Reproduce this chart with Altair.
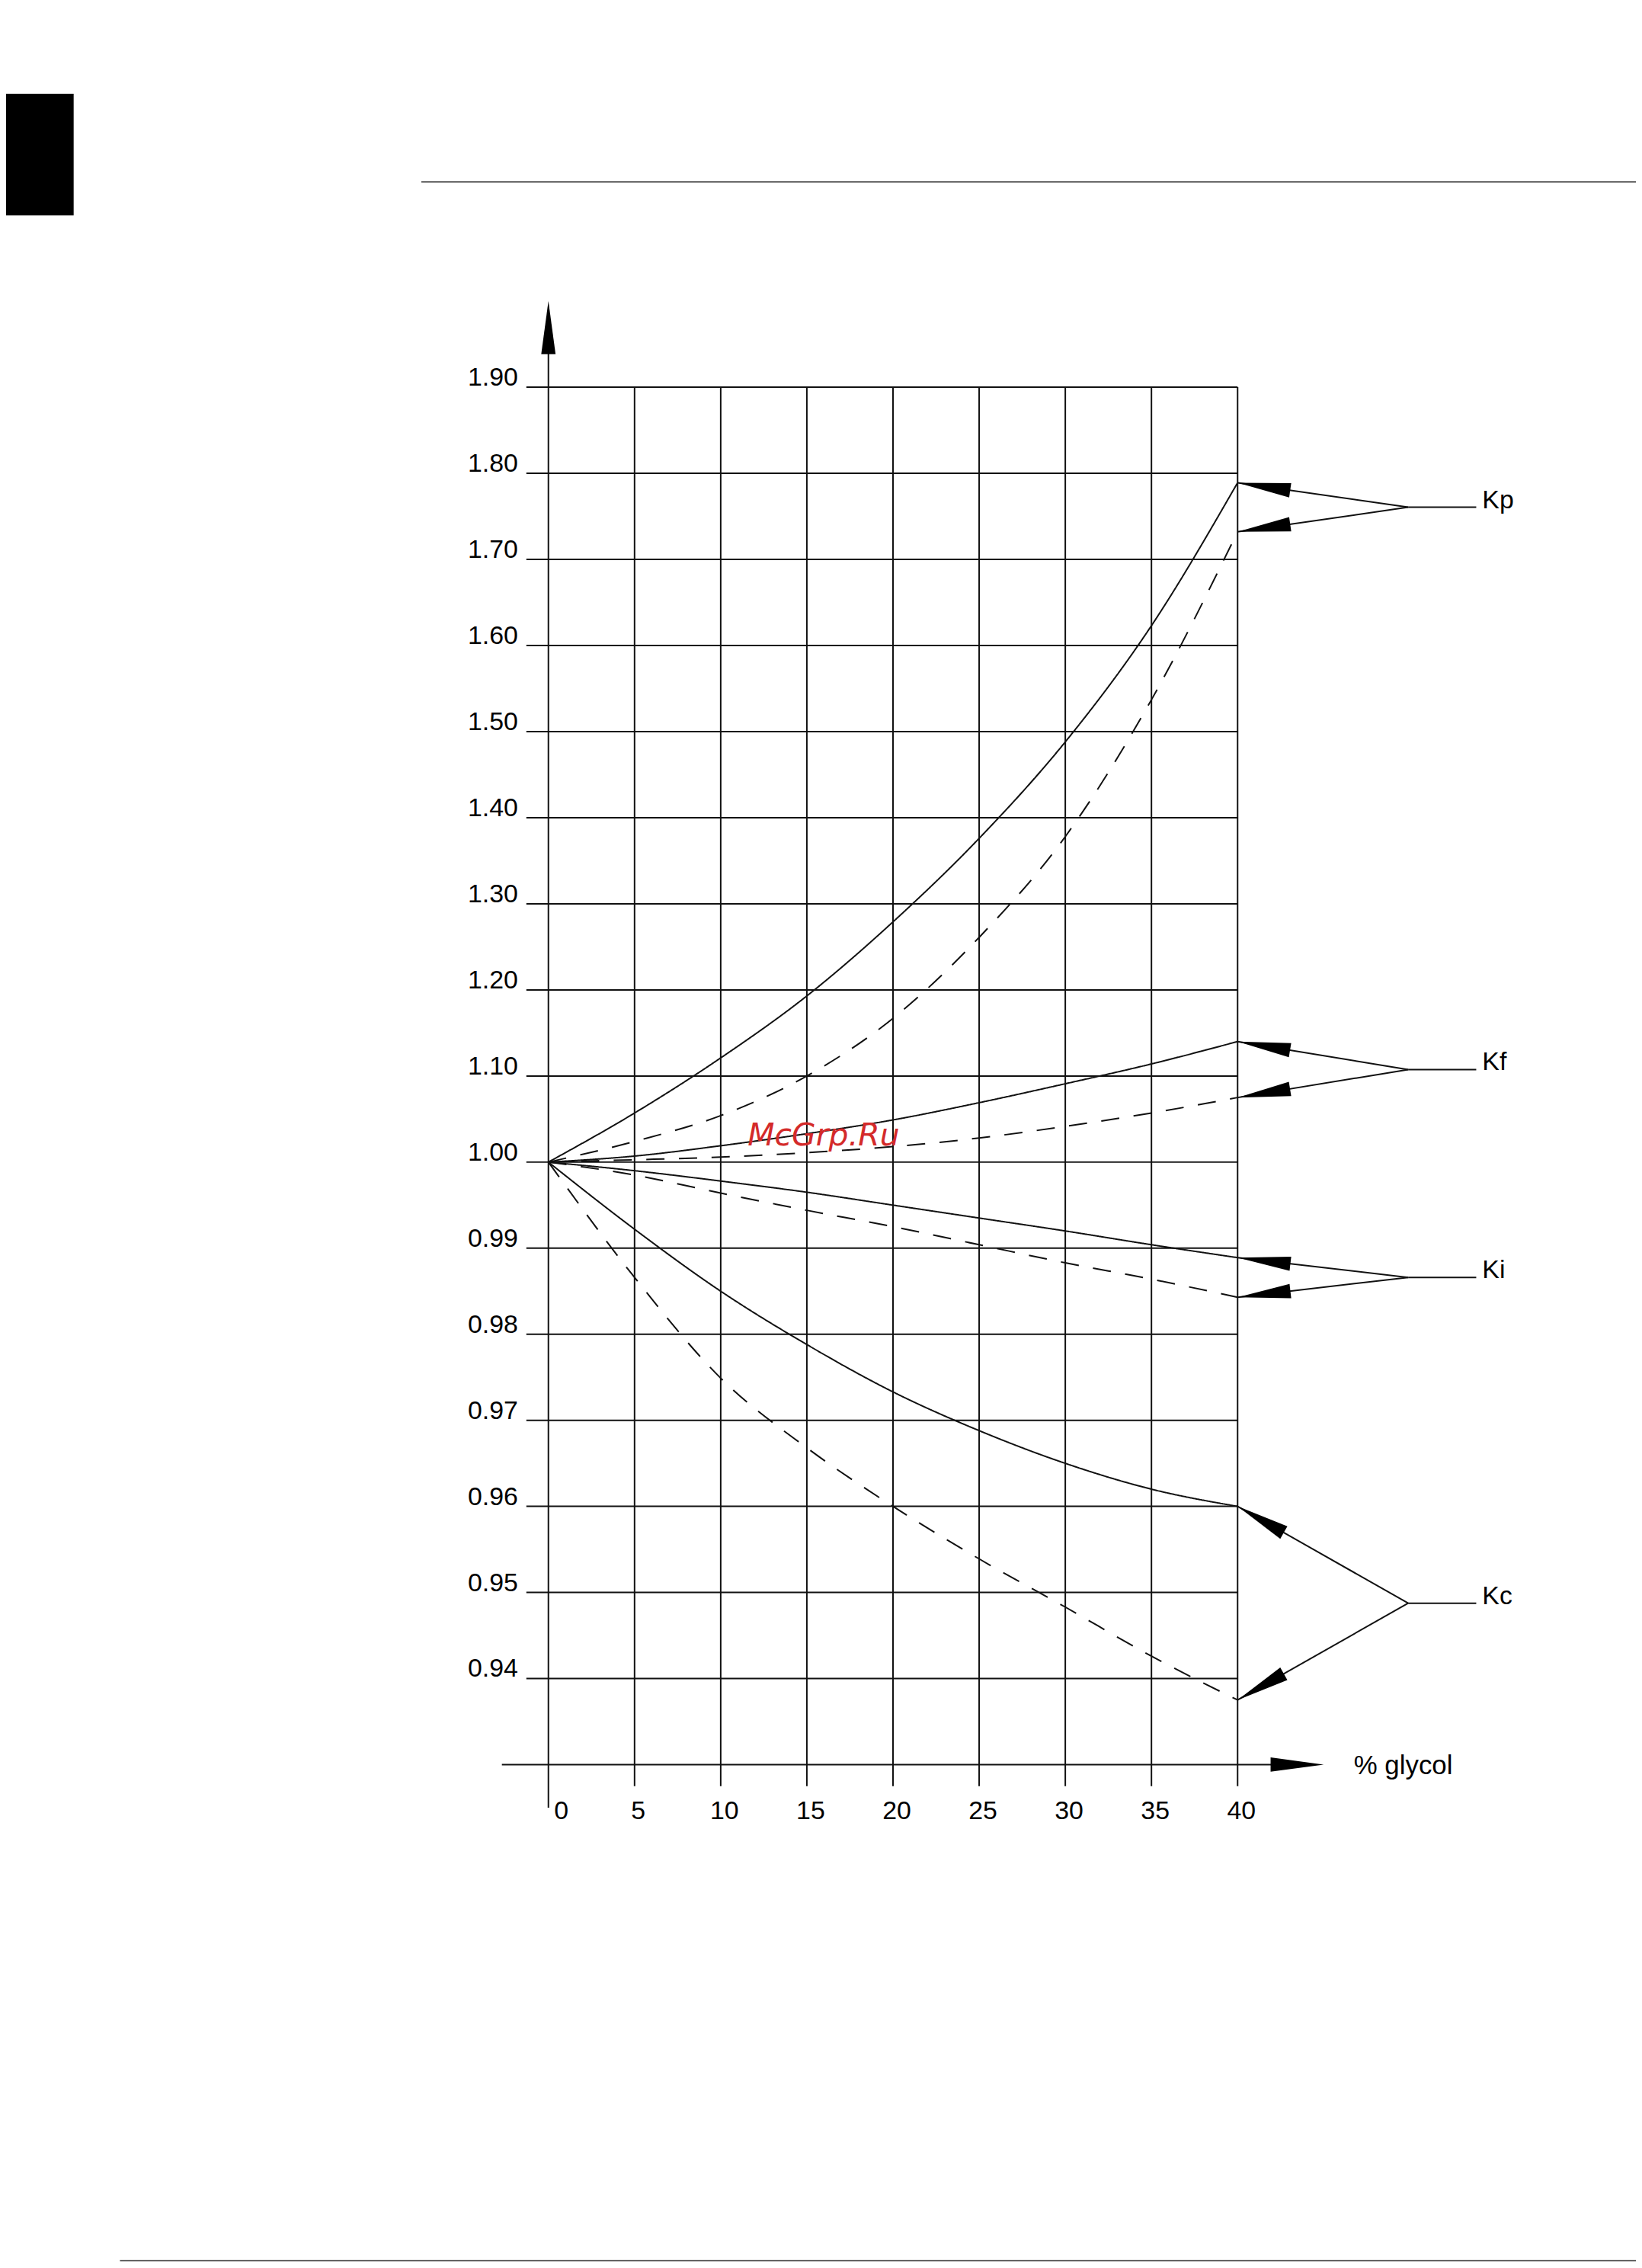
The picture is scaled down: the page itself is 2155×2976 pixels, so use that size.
import math
import altair as alt
import pandas as pd

# ---------------- data ----------------
GLYCOL = [0, 5, 10, 15, 20, 25, 30, 35, 40]

KP_SOLID = [1.000, 1.057, 1.121, 1.193, 1.279, 1.376, 1.488, 1.623, 1.789]
KP_DASHED = [1.000, 1.024, 1.054, 1.100, 1.167, 1.261, 1.378, 1.537, 1.732]
KF_SOLID = [1.000, 1.007, 1.019, 1.033, 1.049, 1.069, 1.091, 1.114, 1.140]
KF_DASHED = [1.000, 1.0027, 1.0058, 1.011, 1.018, 1.028, 1.0415, 1.057, 1.075]
KI_SOLID = [1.000, 0.9990, 0.9978, 0.9965, 0.9950, 0.9935, 0.9920, 0.9904, 0.9889]
KI_DASHED = [1.000, 0.9985, 0.9964, 0.9944, 0.9925, 0.9904, 0.9883, 0.9864, 0.9843]
KC_SOLID = [1.000, 0.9922, 0.9850, 0.9788, 0.9733, 0.9688, 0.9650, 0.9620, 0.9600]
KC_DASHED = [1.000, 0.9866, 0.9749, 0.9668, 0.9600, 0.9539, 0.9483, 0.9426, 0.9375]

CURVE_NAMES = ["Kp", "Kf", "Ki", "Kc"]
SOLID_SERIES = [KP_SOLID, KF_SOLID, KI_SOLID, KC_SOLID]
DASHED_SERIES = [KP_DASHED, KF_DASHED, KI_DASHED, KC_DASHED]

Y_TICKS = [1.90, 1.80, 1.70, 1.60, 1.50, 1.40, 1.30, 1.20, 1.10, 1.00,
           0.99, 0.98, 0.97, 0.96, 0.95, 0.94]
Y_TICK_LABELS = ["1.90", "1.80", "1.70", "1.60", "1.50", "1.40", "1.30", "1.20",
                 "1.10", "1.00", "0.99", "0.98", "0.97", "0.96", "0.95", "0.94"]
X_TICKS = [0, 5, 10, 15, 20, 25, 30, 35, 40]
X_TICK_LABELS = ["0", "5", "10", "15", "20", "25", "30", "35", "40"]
X_TITLE = "% glycol"
WATERMARK = "McGrp.Ru"

# ---------------- layout / style ----------------
X_MIN, X_MAX = 0, 40
Y_BASE, Y_ONE, Y_TOP = 0.93, 1.00, 1.90
X_RANGE = [714.4, 1622.3]
Y_RANGE = [2310.5, 1517.0, 496.3]
PX_PER_X = (X_RANGE[1] - X_RANGE[0]) / (X_MAX - X_MIN)

GRID_LEFT = -1.28      # horizontal grid lines stick out left of the y axis
AXIS_LEFT = -2.7       # x axis starts further left
AXIS_TIP_X = 45.0      # x-axis arrow tip
AXIS_TIP_Y = 2.0       # y-axis arrow tip
AXIS_BOTTOM = 0.925    # y axis sticks out below x axis
GRID_BOTTOM = 0.9275   # vertical grid lines stick out below x axis
JUNCTION_X = 49.9
LABEL_LINE_END = 53.85
LABEL_X = 54.2
TITLE_X = 46.74
WATERMARK_X, WATERMARK_Y = 11.57, 1.0197

FONT = "Liberation Sans"
FS = 34
INK = "#111111"
LW = 2.0
ARROW = "M0,0 L-2,-0.27 L-2,0.27 Z"   # tip at origin, pointing +x
ARROW_SIZE = 4900

xs = alt.Scale(domain=[X_MIN, X_MAX], range=X_RANGE, nice=False, zero=False)
ys = alt.Scale(domain=[Y_BASE, Y_ONE, Y_TOP], range=Y_RANGE, nice=False, zero=False)


def y_px(v):
    if v <= Y_ONE:
        return Y_RANGE[0] + (v - Y_BASE) / (Y_ONE - Y_BASE) * (Y_RANGE[1] - Y_RANGE[0])
    return Y_RANGE[1] + (v - Y_ONE) / (Y_TOP - Y_ONE) * (Y_RANGE[2] - Y_RANGE[1])


def X(f):
    return alt.X(f, type="quantitative", scale=xs, axis=None)


def Y(f):
    return alt.Y(f, type="quantitative", scale=ys, axis=None)


# ---------------- tables ----------------
rows = []
for name, s, d in zip(CURVE_NAMES, SOLID_SERIES, DASHED_SERIES):
    for x, v in zip(GLYCOL, s):
        rows.append({"x": x, "y": v, "curve": name + "_s", "style": "solid"})
    for x, v in zip(GLYCOL, d):
        rows.append({"x": x, "y": v, "curve": name + "_d", "style": "dashed"})
curves = pd.DataFrame(rows)

hgrid = pd.DataFrame({"x1": GRID_LEFT, "x2": X_MAX, "y": Y_TICKS})
vgrid = pd.DataFrame({"x": X_TICKS[1:], "y1": GRID_BOTTOM, "y2": Y_TOP})
yaxis = pd.DataFrame({"x": [0], "y1": [AXIS_BOTTOM], "y2": [AXIS_TIP_Y - 0.02]})
xaxis = pd.DataFrame({"x1": [AXIS_LEFT], "x2": [AXIS_TIP_X - 1], "y": [Y_BASE]})
axis_arrows = pd.DataFrame({"x": [0, AXIS_TIP_X], "y": [AXIS_TIP_Y, Y_BASE], "a": [270, 0]})

ann_lines, ann_heads, ann_labels = [], [], []
for name, s, d in zip(CURVE_NAMES, SOLID_SERIES, DASHED_SERIES):
    mid = (s[-1] + d[-1]) / 2
    for end in (s[-1], d[-1]):
        ann_lines.append({"x1": JUNCTION_X, "y1": mid, "x2": X_MAX, "y2": end})
        dx = (X_MAX - JUNCTION_X) * PX_PER_X
        dy = y_px(end) - y_px(mid)
        ang = math.degrees(math.atan2(dy, dx)) % 360
        ann_heads.append({"x": X_MAX, "y": end, "a": ang})
    ann_lines.append({"x1": JUNCTION_X, "y1": mid, "x2": LABEL_LINE_END, "y2": mid})
    ann_labels.append({"x": LABEL_X, "y": mid, "t": name})
ann_lines = pd.DataFrame(ann_lines)
ann_heads = pd.DataFrame(ann_heads)
ann_labels = pd.DataFrame(ann_labels)

ylab = pd.DataFrame({"y": Y_TICKS, "t": Y_TICK_LABELS})
xlab0 = pd.DataFrame({"x": X_TICKS[:1], "t": X_TICK_LABELS[:1]})
xlab = pd.DataFrame({"x": X_TICKS[1:], "t": X_TICK_LABELS[1:]})
title_df = pd.DataFrame({"x": [TITLE_X], "y": [Y_BASE], "t": [X_TITLE]})
wm_df = pd.DataFrame({"x": [WATERMARK_X], "y": [WATERMARK_Y], "t": [WATERMARK]})
one = pd.DataFrame({"d": [0]})

# ---------------- layers ----------------
layers = []

layers.append(alt.Chart(hgrid).mark_rule(color=INK, strokeWidth=LW).encode(
    x=X("x1"), x2=alt.X2("x2"), y=Y("y")))
layers.append(alt.Chart(vgrid).mark_rule(color=INK, strokeWidth=LW).encode(
    x=X("x"), y=Y("y1"), y2=alt.Y2("y2")))
layers.append(alt.Chart(yaxis).mark_rule(color=INK, strokeWidth=LW).encode(
    x=X("x"), y=Y("y1"), y2=alt.Y2("y2")))
layers.append(alt.Chart(xaxis).mark_rule(color=INK, strokeWidth=LW).encode(
    x=X("x1"), x2=alt.X2("x2"), y=Y("y")))
layers.append(alt.Chart(axis_arrows).mark_point(
    shape=ARROW, filled=True, size=ARROW_SIZE, color="black", opacity=1, strokeWidth=0
).encode(x=X("x"), y=Y("y"), angle=alt.Angle("a:Q", scale=None)))

layers.append(alt.Chart(curves).mark_line(
    color=INK, strokeWidth=LW, interpolate="monotone"
).encode(
    x=X("x"), y=Y("y"), detail="curve:N",
    strokeDash=alt.StrokeDash("style:N", legend=None,
                              scale=alt.Scale(domain=["solid", "dashed"],
                                              range=[[1, 0], [24, 19]])),
))

layers.append(alt.Chart(ann_lines).mark_rule(color=INK, strokeWidth=LW).encode(
    x=X("x1"), y=Y("y1"), x2=alt.X2("x2"), y2=alt.Y2("y2")))
layers.append(alt.Chart(ann_heads).mark_point(
    shape=ARROW, filled=True, size=ARROW_SIZE, color="black", opacity=1, strokeWidth=0
).encode(x=X("x"), y=Y("y"), angle=alt.Angle("a:Q", scale=None)))
layers.append(alt.Chart(ann_labels).mark_text(
    font=FONT, fontSize=FS, color="black", align="left", baseline="alphabetic", dy=1
).encode(x=X("x"), y=Y("y"), text="t:N"))

layers.append(alt.Chart(ylab).mark_text(
    font=FONT, fontSize=FS, color="black", align="right", baseline="alphabetic", dx=-40, dy=-2
).encode(x=alt.value(X_RANGE[0]), y=Y("y"), text="t:N"))
layers.append(alt.Chart(xlab0).mark_text(
    font=FONT, fontSize=FS, color="black", align="center", baseline="alphabetic", dx=17, dy=72
).encode(x=X("x"), y=alt.value(Y_RANGE[0]), text="t:N"))
layers.append(alt.Chart(xlab).mark_text(
    font=FONT, fontSize=FS, color="black", align="center", baseline="alphabetic", dx=5, dy=72
).encode(x=X("x"), y=alt.value(Y_RANGE[0]), text="t:N"))
layers.append(alt.Chart(title_df).mark_text(
    font=FONT, fontSize=35, color="black", align="left", baseline="alphabetic", dy=13
).encode(x=X("x"), y=Y("y"), text="t:N"))

layers.append(alt.Chart(wm_df).mark_text(
    font="DejaVu Sans", fontStyle="italic", fontSize=41, color="#d42a2a",
    align="left", baseline="alphabetic"
).encode(x=X("x"), y=Y("y"), text="t:N"))

# page furniture (header block and rules)
layers.append(alt.Chart(one).mark_rect(color="black").encode(
    x=alt.value(0), x2=alt.value(89), y=alt.value(110), y2=alt.value(270)))
layers.append(alt.Chart(one).mark_rule(color="#333333", strokeWidth=1.5).encode(
    x=alt.value(547), x2=alt.value(2147), y=alt.value(226)))
layers.append(alt.Chart(one).mark_rule(color="#333333", strokeWidth=1.5).encode(
    x=alt.value(150), x2=alt.value(2147), y=alt.value(2964)))

chart = alt.layer(*layers).properties(
    width=2147, height=2968, padding=0,
    autosize=alt.AutoSizeParams(type="none"),
).configure_view(stroke=None)

chart.save("out.html", embed_options={"renderer": "svg", "actions": False})
